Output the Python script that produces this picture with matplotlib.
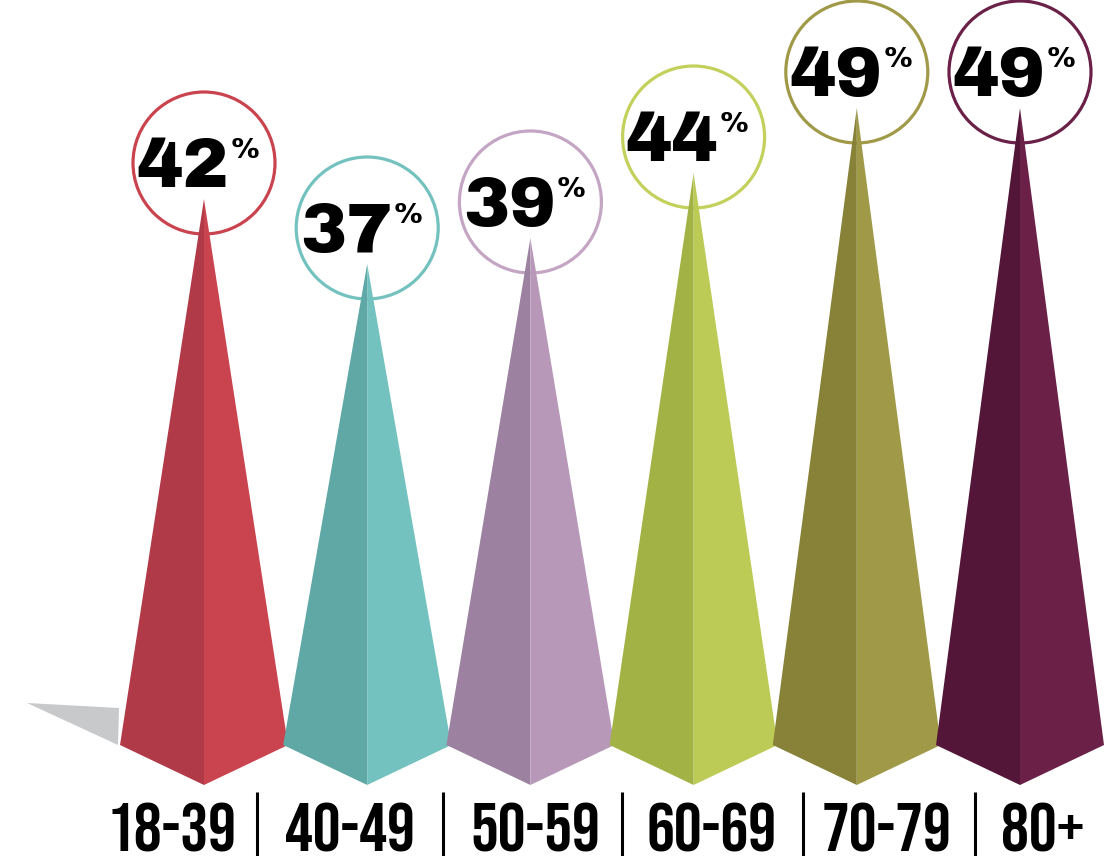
import matplotlib
matplotlib.use("Agg")
import matplotlib.pyplot as plt
from matplotlib.patches import Ellipse, Polygon
from matplotlib import font_manager

# data
groups = ["18-39", "40-49", "50-59", "60-69", "70-79", "80+"]
values = [42, 37, 39, 44, 49, 49]
dark = ["#b03a48", "#5fa8a5", "#9c82a0", "#a3b244", "#878238", "#541638"]
light = ["#c9444f", "#74c2bf", "#b898b8", "#bccb55", "#a09a48", "#6b2048"]
ring = ["#c9444f", "#74c2bf", "#c4a5c4", "#c3d05b", "#a09a48", "#6b2048"]

W, H = 1107, 856
fig = plt.figure(figsize=(W / 100, H / 100), dpi=100)
ax = fig.add_axes([0, 0, 1, 1])

# pixel scale: x step per group, px per percent
xstep = 163.2
x0 = 204
ypx = 13.0
ybase = 745
ax.set_xlim(-x0 / xstep, (W - x0) / xstep)
ax.set_ylim(-(H - ybase) / ypx, ybase / ypx)
ax.axis("off")

half = 84 / xstep
tip = -40 / ypx

# condensed face for the age labels, heavy face for the numbers
names = {f.name for f in font_manager.fontManager.ttflist}
lab_font, lab_size = "DejaVu Sans", 30
for cand, size in [("Bebas Neue", 50), ("Barlow Condensed", 44), ("Roboto Condensed", 40)]:
    if cand in names:
        lab_font, lab_size = cand, size
        break
if "Archivo Black" in names:
    num_font, num_size = "Archivo Black", 50
else:
    num_font, num_size = "DejaVu Sans", 47

# grey shadow behind first pyramid
shadow = Polygon([(-177 / xstep, 42 / ypx), (-85 / xstep, 37 / ypx), (-86 / xstep, 0)],
                 closed=True, color="#c8c9cb", lw=0, zorder=0)
ax.add_patch(shadow)

for i, (v, c1, c2, c3) in enumerate(zip(values, dark, light, ring)):
    # ring above the spike
    cy = v + 36 / ypx
    circ = Ellipse((i, cy), 142 / xstep, 142 / ypx, facecolor="white",
                   edgecolor=c3, lw=2.3, zorder=1)
    ax.add_patch(circ)
    ax.fill([i, i - half, i], [v, 0, tip], color=c1, lw=0, zorder=2)
    ax.fill([i, i, i + half], [v, tip, 0], color=c2, lw=0, zorder=2)

    ax.annotate(str(v), (i, cy), xytext=(18, -17), textcoords="offset points",
                ha="right", va="baseline", fontsize=num_size, fontweight="black",
                family=[num_font, "DejaVu Sans"], color="black", zorder=5)
    ax.annotate("%", (i, cy), xytext=(19, 19), textcoords="offset points",
                ha="left", va="top", fontsize=21, fontweight="bold",
                family=[num_font, "DejaVu Sans"], color="black", zorder=5)

# bottom labels and separators
label_x = [172, 350, 535, 712, 887, 1043]
for lx, g in zip(label_x, groups):
    ax.text((lx - x0) / xstep, -(851 - ybase) / ypx, g, ha="center", va="baseline",
            fontsize=lab_size, fontweight="bold", family=[lab_font, "DejaVu Sans"],
            color="black")

sep_x = [257, 443, 622, 803, 975]
for sx in sep_x:
    ax.plot([(sx - x0) / xstep] * 2, [-(792 - ybase) / ypx, -(856 - ybase) / ypx],
            color="black", lw=2.2, solid_capstyle="butt")

fig.savefig("out.png", dpi=100)
